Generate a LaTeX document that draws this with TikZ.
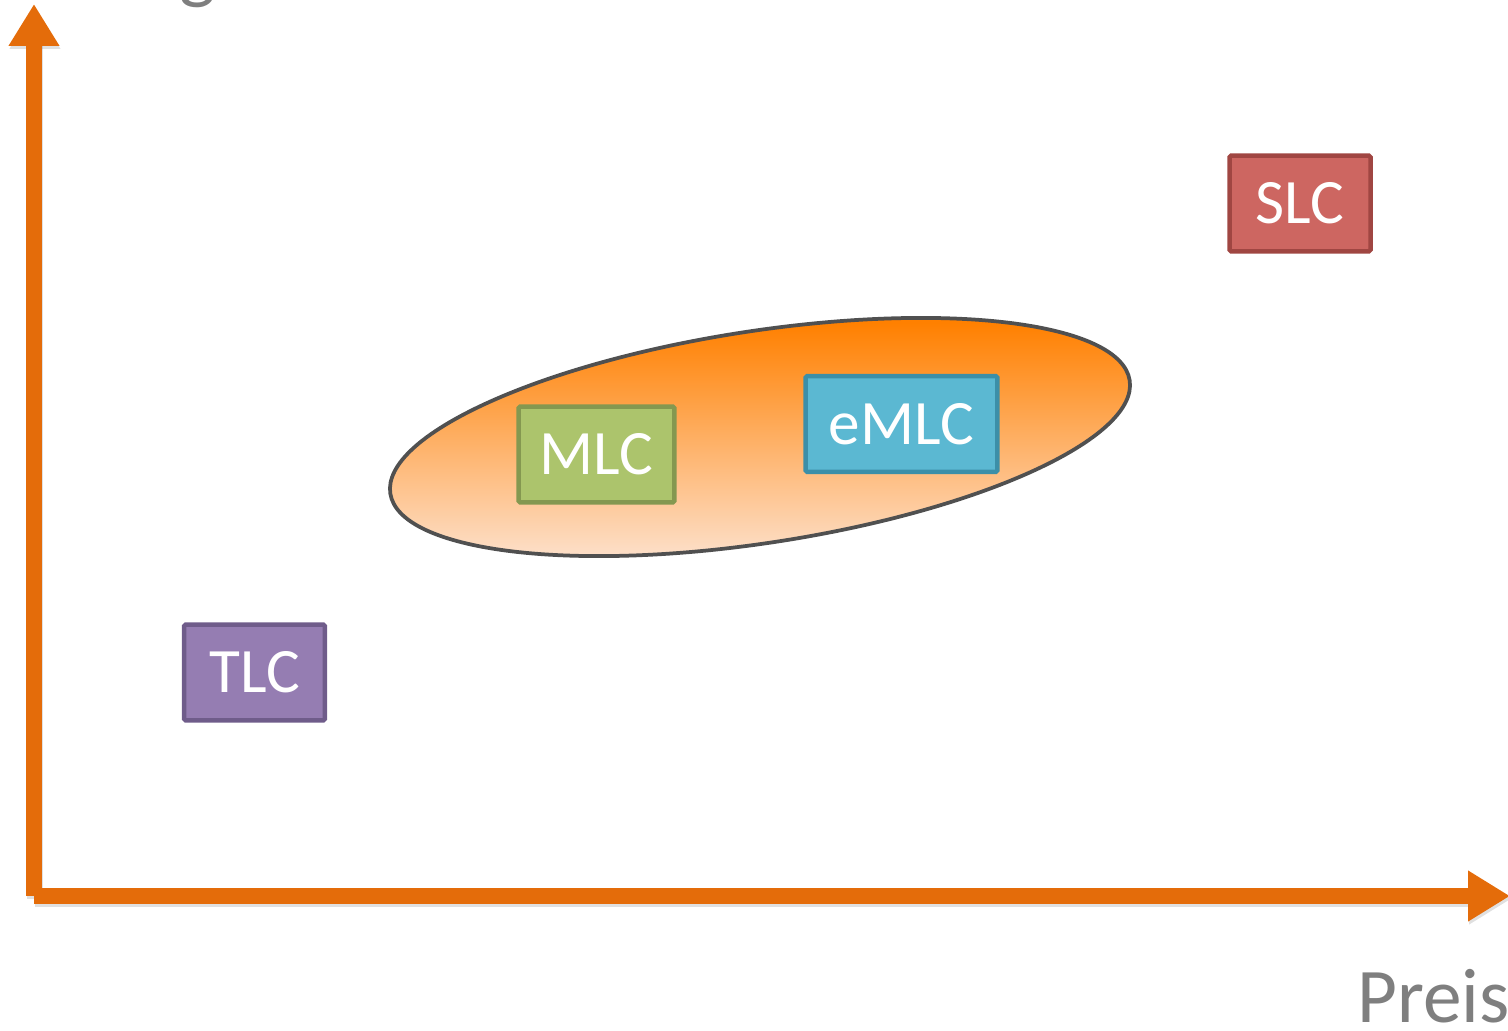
\documentclass[tikz,border=0pt]{standalone}
\usepackage{fontspec}
\setmainfont{Carlito}
\usetikzlibrary{arrows.meta}

\definecolor{axisorange}{RGB}{228,108,10}
\definecolor{labelgray}{RGB}{127,127,127}
\definecolor{ringgray}{RGB}{80,80,80}
\definecolor{ringtop}{RGB}{255,128,0}
\definecolor{ringbottom}{RGB}{253,230,215}
\definecolor{slcfill}{RGB}{205,102,97}
\definecolor{slcline}{RGB}{160,70,66}
\definecolor{mlcfill}{RGB}{172,196,108}
\definecolor{mlcline}{RGB}{132,152,80}
\definecolor{emlcfill}{RGB}{91,184,210}
\definecolor{emlcline}{RGB}{60,143,168}
\definecolor{tlcfill}{RGB}{149,125,178}
\definecolor{tlcline}{RGB}{111,92,138}

\begin{document}
\begin{tikzpicture}[x=0.02cm, y=-0.02cm,
  axis/.style={line width=0.32cm, draw=axisorange, -{Triangle[length=0.84cm,width=0.96cm]}},
  axisshadow/.style={line width=0.32cm, draw=black, opacity=0.12, -{Triangle[length=0.84cm,width=0.96cm]}},
  cell/.style={draw, line width=0.09cm, rounded corners=1pt, text=white, inner sep=0pt,
    minimum height=1.92cm, font=\fontsize{36}{40}\selectfont},
  axislabel/.style={text=labelgray, inner sep=0pt, font=\fontsize{44}{48}\selectfont}]
  \useasboundingbox (0,0) rectangle (1508,1031);
  \clip (0,0) rectangle (1508,1031);

  % axes
  \coordinate (origin) at (34,896);
  \coordinate (ytip) at (34,4);
  \coordinate (xtip) at (1510,896);
  \coordinate (origins) at (35,899);
  \coordinate (ytips) at (35,7);
  \coordinate (xtips) at (1511,899);
  \draw [axisshadow] (origins) -- (ytips);
  \draw [axisshadow] (origins) -- (xtips);
  \draw [axis] (origin) -- (ytip);
  \draw [axis] (origin) -- (xtip);
  \node [axislabel, anchor=base east] (ylabel) at (216,-6) {Leistung};
  \node [axislabel, anchor=base west] (xlabel) at (1357,1022) {Preis};

  % group
  \filldraw [draw=ringgray, line width=0.075cm, top color=ringtop, bottom color=ringbottom,
    rotate around={8.7:(760,437)}] (760,437) ellipse [x radius=374, y radius=106];

  % cell types
  \node [cell, fill=slcfill, draw=slcline, minimum width=2.82cm] (slc) at (1300,203.5) {SLC};
  \node [cell, fill=mlcfill, draw=mlcline, minimum width=3.12cm] (mlc) at (596.5,454.5) {MLC};
  \node [cell, fill=emlcfill, draw=emlcline, minimum width=3.84cm] (emlc) at (901.5,424) {eMLC};
  \node [cell, fill=tlcfill, draw=tlcline, minimum width=2.82cm] (tlc) at (254.5,672.5) {TLC};
\end{tikzpicture}
\end{document}
